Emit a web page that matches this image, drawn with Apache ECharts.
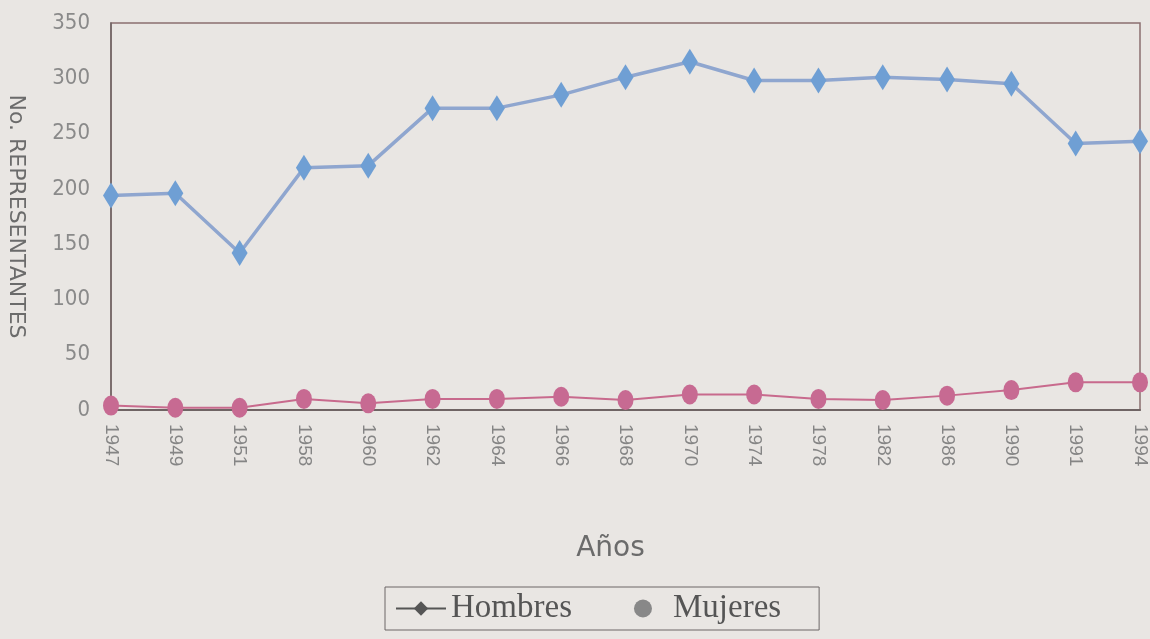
<!DOCTYPE html>
<html>
<head>
<meta charset="utf-8">
<script src="https://cdn.jsdelivr.net/npm/echarts@6/dist/echarts.min.js"></script>
<style>
  html, body { margin: 0; padding: 0; background: #e9e6e3; }
  #chart { width: 1150px; height: 639px; }
</style>
</head>
<body>
<div id="chart"></div>
<script>
// Datos
const years = ['1947', '1949', '1951', '1958', '1960', '1962', '1964', '1966', '1968',
  '1970', '1974', '1978', '1982', '1986', '1990', '1991', '1994']
const hombres = [194, 196, 142, 219, 221, 273, 273, 285, 301, 315, 298, 298, 301, 299, 295, 241, 243]
const mujeres = [4, 2, 2, 10, 6, 10, 10, 12, 9, 14, 14, 10, 9, 13, 18, 25, 25]
const yTicks = [0, 50, 100, 150, 200, 250, 300, 350]

const chart = echarts.init(document.getElementById('chart'))

chart.setOption({
  backgroundColor: '#e9e6e3',
  animation: false,
  grid: {
    left: 111,
    right: 10,
    top: 23,
    bottom: 229,
    outerBoundsMode: 'none',
    show: true,
    borderColor: '#8a6f70',
    borderWidth: 1.5,
    backgroundColor: 'transparent'
  },
  legend: {
    bottom: 9,
    left: 385,
    itemGap: 62,
    padding: [5, 38, 5, 10],
    borderColor: '#6d6767',
    borderWidth: 1,
    itemWidth: 50,
    itemHeight: 18,
    textStyle: { fontFamily: 'Liberation Serif', fontSize: 33, color: '#555' },
    data: [
      { name: 'Hombres', itemStyle: { color: '#555' }, lineStyle: { color: '#555', width: 2 } },
      { name: 'Mujeres', icon: 'circle', itemStyle: { color: '#888' } }
    ]
  },
  xAxis: {
    type: 'category',
    data: years,
    boundaryGap: false,
    name: 'Años',
    nameLocation: 'middle',
    nameGap: 125,
    nameTextStyle: { fontFamily: 'DejaVu Sans', fontSize: 28, color: '#6b6b6b', padding: [0, 30, 0, 0] },
    axisLine: { lineStyle: { color: '#6f6464', width: 2 } },
    axisTick: { show: false },
    axisLabel: {
      rotate: -90,
      margin: 14,
      fontFamily: 'Liberation Sans',
      fontSize: 19,
      color: '#858585'
    }
  },
  yAxis: {
    type: 'value',
    min: 0,
    max: 350,
    interval: 50,
    name: 'No. REPRESENTANTES',
    nameLocation: 'middle',
    nameRotate: -90,
    nameGap: 84,
    nameTextStyle: { fontFamily: 'DejaVu Sans', fontSize: 22, color: '#6b6b6b' },
    axisLine: { show: true, lineStyle: { color: '#6f6464', width: 1.5 } },
    axisTick: { show: false },
    splitLine: { show: false },
    axisLabel: {
      margin: 21,
      fontFamily: 'DejaVu Sans Condensed',
      fontSize: 22,
      color: '#8a8a8a',
      formatter: v => (yTicks.includes(v) ? String(v) : '')
    }
  },
  series: [
    {
      name: 'Hombres',
      type: 'line',
      data: hombres,
      symbol: 'diamond',
      symbolSize: [16, 26],
      lineStyle: { color: '#8fa6cf', width: 3.5 },
      itemStyle: { color: '#6f9fd4' }
    },
    {
      name: 'Mujeres',
      type: 'line',
      data: mujeres,
      symbol: 'circle',
      symbolSize: [16, 20],
      lineStyle: { color: '#c86a8d', width: 2 },
      itemStyle: { color: '#c76a92' }
    }
  ]
})
</script>
</body>
</html>
